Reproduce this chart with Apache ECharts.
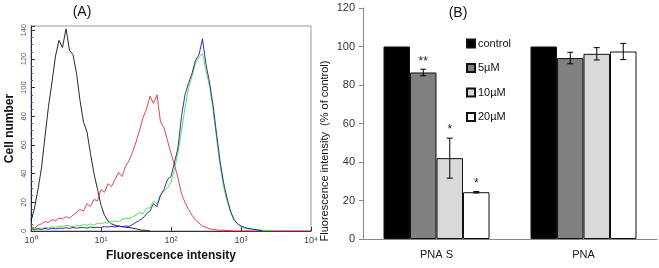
<!DOCTYPE html>
<html>
<head>
<meta charset="utf-8">
<script src="https://cdn.jsdelivr.net/npm/echarts@6/dist/echarts.min.js"></script>
<style>
html, body { margin: 0; padding: 0; background: #fff; }
#chart { width: 659px; height: 268px; }
</style>
</head>
<body>
<div id="chart"></div>
<script>
// (A) flow histograms, one reading every 0.05 decade starting at 10^0
let step = 0.05;
let histBlack = [7, 16, 29, 44, 66, 87, 104, 122, 133, 128, 141, 126, 123, 110, 91, 76, 69, 54, 40, 29,
	18, 11, 7, 5, 4, 3.5, 3, 2.5, 2.5, 2, 1.5, 0.8, 0.5, 0.5, 0];
let histRed = [3, 2, 4, 5, 6.5, 6, 8, 7, 9, 8.5, 10, 9, 11, 13, 15, 14, 19, 17, 22, 21,
	29, 27, 33, 31, 36, 41, 38, 45, 49, 55, 62, 70, 79, 85, 94, 89, 95, 76, 72, 63,
	54, 46, 37, 26, 20, 15, 11, 7.5, 5.5, 3.5, 2.5, 1.5, 1.2, 0.8, 0.5, 0.6, 0.3, 0.2, 0, 0,
	0, 0, 0, 0, 0, 0, 0, 0, 0, 0, 0, 0, 0, 0, 0, 0, 0, 0, 0, 0, 0];
let histGreen = [2, 1.5, 2, 1.5, 2.5, 2, 3, 2.5, 3.5, 3, 4, 3.5, 3, 4, 3.5, 4.5, 4, 5, 4, 5.5,
	5, 6, 5.5, 6.5, 7, 6.5, 8, 9, 8.5, 10, 11, 13, 12, 16, 16, 21, 19, 25, 28, 30,
	34, 43, 55, 70, 86, 100, 108, 117, 121, 124, 112, 101, 85, 65, 46, 31, 21, 13, 7.5, 5,
	3, 2, 1.5, 1.2, 1, 0.8, 0.5, 0.5, 0.3, 0.6];
let histBlue = [1.5, 1, 1.5, 1, 1.8, 1.2, 2, 1.5, 2, 1.8, 2.3, 1.8, 2.5, 2, 2.3, 2.5, 2, 2.8, 2.3, 2.6,
	2.5, 3, 2.8, 3.2, 2.8, 3.3, 3, 3.5, 3.2, 4.5, 6, 7.5, 9, 12, 14, 19, 17, 25, 29, 36,
	38, 48, 58, 80, 95, 103, 110, 119, 123, 134, 116, 104, 88, 68, 49, 34, 23, 14, 8, 5,
	3.5, 2.5, 1.8, 1.5, 1, 0.6, 0.4];
let decadeLabels = ['10⁰', '10¹', '10²', '10³', '10⁴'];

// (B) % of control
let groups = ['PNA S', 'PNA'];
let doses = ['control', '5µM', '10µM', '20µM'];
let meanControl = [100, 100];
let mean5 = [86.5, 94];
let mean10 = [42, 96.2];
let mean20 = [24.3, 97.4];
let err5 = [1.7, 3];
let err10 = [10.4, 3.2];
let err20 = [0.4, 4.2];
let stars5 = ['**', ''];
let stars10 = ['*', ''];
let stars20 = ['*', ''];

let font = 'Liberation Sans, Arial, sans-serif';
let barW = 26.5;

function toPairs(arr) {
	return arr.map(function(v, i) { return [i * step, v]; });
}

function histLine(name, arr, color) {
	return {
		name: name, type: 'line', xAxisIndex: 0, yAxisIndex: 0,
		data: toPairs(arr), symbol: 'none', smooth: false,
		lineStyle: { color: color, width: 0.9 },
		silent: true
	};
}

function bar(name, data, color) {
	return {
		name: name, type: 'bar', xAxisIndex: 1, yAxisIndex: 1,
		data: data, barWidth: barW, barGap: '0%',
		itemStyle: { color: color, borderColor: '#111', borderWidth: 1 }
	};
}

function errBars(k, means, errs, stars) {
	let offset = (k - 1.5) * barW;
	return {
		type: 'custom', xAxisIndex: 1, yAxisIndex: 1, z: 5,
		data: means.map(function(m, i) { return [i, m, errs[i]]; }),
		renderItem: function(params, api) {
			let i = api.value(0), m = api.value(1), e = api.value(2);
			let x = api.coord([i, m])[0] + offset;
			let yTop = api.coord([i, m + e])[1];
			let yBot = api.coord([i, m - e])[1];
			let st = { stroke: '#000', lineWidth: 1 };
			return {
				type: 'group',
				children: [
					{ type: 'line', shape: { x1: x, y1: yTop, x2: x, y2: yBot }, style: st },
					{ type: 'line', shape: { x1: x - 3, y1: yTop, x2: x + 3, y2: yTop }, style: st },
					{ type: 'line', shape: { x1: x - 3, y1: yBot, x2: x + 3, y2: yBot }, style: st },
					{ type: 'text', x: x, y: yTop - 2, style: { text: stars[params.dataIndex], fill: '#222', font: '12px ' + font, align: 'center', verticalAlign: 'bottom' } }
				]
			};
		}
	};
}

let chart = echarts.init(document.getElementById('chart'));
let option = {
	animation: false,
	textStyle: { fontFamily: font },
	grid: [
		{ left: 31, top: 26, width: 280, height: 205, show: true, borderColor: '#999', borderWidth: 1, backgroundColor: '#fff' },
		{ left: 363, top: 8, width: 294, height: 231 }
	],
	legend: {
		data: doses, orient: 'vertical', left: 466, top: 38,
		icon: 'rect', itemWidth: 8, itemHeight: 8, itemGap: 13.5, padding: 0,
		textStyle: { fontSize: 11, color: '#111', padding: [0, 0, 0, -2] }
	},
	xAxis: [
		{
			gridIndex: 0, type: 'value', min: 0, max: 4, interval: 1,
			axisLine: { lineStyle: { color: '#333' } },
			axisTick: { inside: true, length: 4, lineStyle: { color: '#333' } },
			axisLabel: { formatter: function(v) { return decadeLabels[Math.round(v)]; }, fontSize: 9, color: '#444', margin: 5 },
			splitLine: { show: false },
			name: 'Fluorescence intensity', nameLocation: 'middle', nameGap: 11,
			nameTextStyle: { fontSize: 12, fontWeight: 'bold', color: '#111' }
		},
		{
			gridIndex: 1, type: 'category', data: groups,
			axisLine: { lineStyle: { color: '#888' } },
			axisTick: { length: 4, lineStyle: { color: '#888' } },
			axisLabel: { fontSize: 11, color: '#222', margin: 10 }
		}
	],
	yAxis: [
		{
			gridIndex: 0, type: 'value', min: 0, max: 143, interval: 20,
			axisLine: { show: true, lineStyle: { color: '#22226a' } },
			axisTick: { show: true, inside: true, length: 4, lineStyle: { color: '#333' } },
			minorTick: { show: true, splitNumber: 4, length: 2, lineStyle: { color: '#555' } },
			axisLabel: { rotate: 90, fontSize: 7.5, color: '#555', margin: 3 },
			splitLine: { show: false },
			name: 'Cell number', nameLocation: 'middle', nameGap: 15,
			nameTextStyle: { fontSize: 12, fontWeight: 'bold', color: '#111' }
		},
		{
			gridIndex: 1, type: 'value', min: 0, max: 120, interval: 20,
			axisLine: { show: true, lineStyle: { color: '#888' } },
			axisTick: { show: true, length: 4, lineStyle: { color: '#888' } },
			axisLabel: { fontSize: 11, color: '#333', margin: 8 },
			splitLine: { show: false }
		}
	],
	graphic: [
		{ type: 'text', x: 82, y: 12, style: { text: '(A)', font: '14px ' + font, fill: '#111', align: 'center', verticalAlign: 'middle' } },
		{ type: 'text', x: 458, y: 13, style: { text: '(B)', font: '14px ' + font, fill: '#111', align: 'center', verticalAlign: 'middle' } },
		{ type: 'text', x: 325, y: 151, rotation: Math.PI / 2, style: { text: 'Fluorescence intensity  (% of control)', font: '11px ' + font, fill: '#111', align: 'center', verticalAlign: 'middle' } }
	],
	series: [
		histLine('h0', histBlack, '#111'),
		histLine('h1', histRed, '#dd3333'),
		histLine('h2', histGreen, '#44dd44'),
		histLine('h3', histBlue, '#1c1ca0'),
		bar(doses[0], meanControl, '#000'),
		bar(doses[1], mean5, '#808080'),
		bar(doses[2], mean10, '#d9d9d9'),
		bar(doses[3], mean20, '#fff'),
		errBars(1, mean5, err5, stars5),
		errBars(2, mean10, err10, stars10),
		errBars(3, mean20, err20, stars20)
	]
};
chart.setOption(option);
</script>
</body>
</html>
